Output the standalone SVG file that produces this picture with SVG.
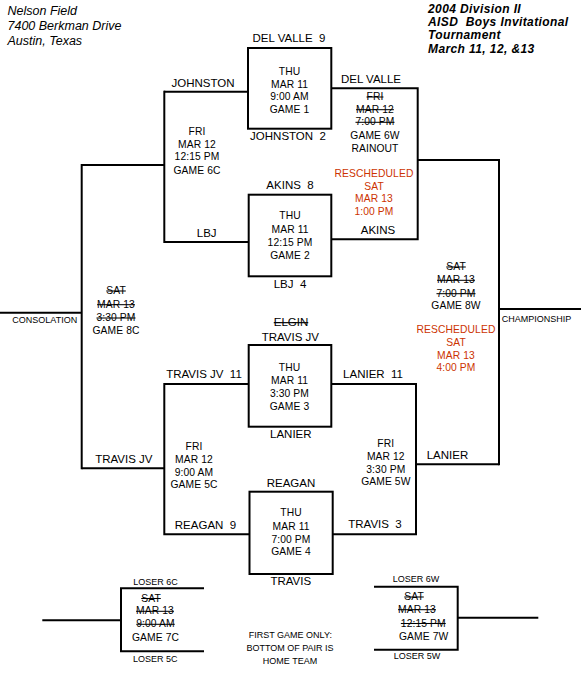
<svg xmlns="http://www.w3.org/2000/svg" width="581" height="691" viewBox="0 0 581 691" xml:space="preserve">
<style>
text{font-family:"Liberation Sans",Arial,sans-serif;fill:#000;white-space:pre}
.hdr{font-size:12.5px;font-style:italic}
.hdr2{font-size:12px;font-style:italic;font-weight:bold;letter-spacing:0.4px}
.lbl{font-size:11.5px;text-anchor:middle}
.g{font-size:10.3px;text-anchor:middle;letter-spacing:0.1px}
.s{font-size:9px}
.m{text-anchor:middle}
.x{text-decoration:line-through}
.r{fill:#cc3300}
.ln{fill:none;stroke:#000;stroke-width:2}
</style>
<rect width="581" height="691" fill="#fff"/>
<g id="header-left">
<text class="hdr" x="7.5" y="15">Nelson Field</text>
<text class="hdr" x="7.5" y="30">7400 Berkman Drive</text>
<text class="hdr" x="7.5" y="45">Austin, Texas</text>
</g>
<g id="header-right">
<text class="hdr2" x="428" y="12.5">2004 Division II</text>
<text class="hdr2" x="428" y="25.5">AISD  Boys Invitational</text>
<text class="hdr2" x="428" y="39">Tournament</text>
<text class="hdr2" x="428" y="52.5">March 11, 12, &amp;13</text>
</g>
<g id="connectors" class="ln">
<polyline points="164,91.7 248,91.7"/>
<polyline points="164.3,90.7 164.3,243"/>
<polyline points="164,242 248.5,242"/>
<polyline points="331,88.3 417.7,88.3 417.7,239.3 331,239.3"/>
<polyline points="82,165 164.3,165"/>
<polyline points="417.7,160 499,160"/>
<polyline points="81.7,164 81.7,469.3"/>
<polyline points="0,312.7 81.7,312.7"/>
<polyline points="499,159 499,465.3"/>
<polyline points="499,309 581,309"/>
<polyline points="248.5,384 164.3,384 164.3,534.3 249,534.3"/>
<polyline points="81.7,468.3 164.3,468.3"/>
<polyline points="331,384 416,384 416,534.3 332.7,534.3"/>
<polyline points="416,464.3 499,464.3"/>
<polyline points="204,588.3 121,588.3 121,651.3 204,651.3"/>
<polyline points="42.3,620.3 121,620.3"/>
<polyline points="374,586.7 457.7,586.7 457.7,649.7 374,649.7"/>
<polyline points="457.7,617.7 538.3,617.7"/>
</g>
<g id="game1">
<rect class="ln" x="248" y="48" width="83.3" height="80.7"/>
<text class="lbl" x="289" y="42">DEL VALLE  9</text>
<text class="lbl" x="288" y="140">JOHNSTON  2</text>
<text class="g" x="289.5" y="74.5">THU</text>
<text class="g" x="289.5" y="87.5">MAR 11</text>
<text class="g" x="289.5" y="100">9:00 AM</text>
<text class="g" x="289.5" y="112.5">GAME 1</text>
</g>
<g id="game2">
<rect class="ln" x="248.7" y="194.7" width="82.6" height="81.6"/>
<text class="lbl" x="290" y="189">AKINS  8</text>
<text class="lbl" x="290" y="288.3">LBJ  4</text>
<text class="g" x="290" y="219.3">THU</text>
<text class="g" x="290" y="232.5">MAR 11</text>
<text class="g" x="290" y="245.5">12:15 PM</text>
<text class="g" x="290" y="258.7">GAME 2</text>
</g>
<g id="game3">
<rect class="ln" x="248.7" y="345" width="82.6" height="81.7"/>
<text class="lbl x" x="291" y="326">ELGIN</text>
<text class="lbl" x="290.3" y="341">TRAVIS JV</text>
<text class="lbl" x="290.8" y="438.3">LANIER</text>
<text class="g" x="289.5" y="370.7">THU</text>
<text class="g" x="289.5" y="384">MAR 11</text>
<text class="g" x="289.5" y="396.7">3:30 PM</text>
<text class="g" x="289.5" y="410">GAME 3</text>
</g>
<g id="game4">
<rect class="ln" x="249.5" y="491.7" width="83.2" height="82.3"/>
<text class="lbl" x="291" y="486.7">REAGAN</text>
<text class="lbl" x="290.8" y="585">TRAVIS</text>
<text class="g" x="291" y="516">THU</text>
<text class="g" x="291" y="529.5">MAR 11</text>
<text class="g" x="291" y="542.5">7:00 PM</text>
<text class="g" x="291" y="555">GAME 4</text>
</g>
<g id="game6C">
<text class="lbl" x="203" y="86.7">JOHNSTON</text>
<text class="lbl" x="206.7" y="236.7">LBJ</text>
<text class="g" x="197" y="135">FRI</text>
<text class="g" x="197" y="147.5">MAR 12</text>
<text class="g" x="197" y="160.3">12:15 PM</text>
<text class="g" x="197" y="173.5">GAME 6C</text>
</g>
<g id="game6W">
<text class="lbl" x="371" y="83.3">DEL VALLE</text>
<text class="lbl" x="378" y="234">AKINS</text>
<text class="g x" x="375" y="100">FRI</text>
<text class="g x" x="375" y="112.7">MAR 12</text>
<text class="g x" x="375" y="125.3">7:00 PM</text>
<text class="g" x="375" y="138.5">GAME 6W</text>
<text class="g" x="375" y="151.5">RAINOUT</text>
<text class="g r" x="374" y="177.3">RESCHEDULED</text>
<text class="g r" x="374" y="189.5">SAT</text>
<text class="g r" x="374" y="202">MAR 13</text>
<text class="g r" x="374" y="215">1:00 PM</text>
</g>
<g id="game8C">
<text class="s" x="12.3" y="322.7">CONSOLATION</text>
<text class="g x" x="116" y="294">SAT</text>
<text class="g x" x="116" y="307.7">MAR 13</text>
<text class="g x" x="116" y="321">3:30 PM</text>
<text class="g" x="116" y="334">GAME 8C</text>
</g>
<g id="game8W">
<text class="s" x="501.7" y="322.3">CHAMPIONSHIP</text>
<text class="g x" x="456" y="270">SAT</text>
<text class="g x" x="456" y="283.3">MAR 13</text>
<text class="g x" x="456" y="296.7">7:00 PM</text>
<text class="g" x="456" y="309.3">GAME 8W</text>
<text class="g r" x="456" y="333.3">RESCHEDULED</text>
<text class="g r" x="456" y="345.7">SAT</text>
<text class="g r" x="456" y="358.7">MAR 13</text>
<text class="g r" x="456" y="371.3">4:00 PM</text>
</g>
<g id="game5C">
<text class="lbl" x="204" y="377.7">TRAVIS JV  11</text>
<text class="lbl" x="123.8" y="463.3">TRAVIS JV</text>
<text class="lbl" x="205.5" y="529">REAGAN  9</text>
<text class="g" x="194" y="450">FRI</text>
<text class="g" x="194" y="462.7">MAR 12</text>
<text class="g" x="194" y="475.7">9:00 AM</text>
<text class="g" x="194" y="488.3">GAME 5C</text>
</g>
<g id="game5W">
<text class="lbl" x="373" y="377.7">LANIER  11</text>
<text class="lbl" x="447.5" y="459.3">LANIER</text>
<text class="lbl" x="375" y="528.3">TRAVIS  3</text>
<text class="g" x="385.8" y="446.7">FRI</text>
<text class="g" x="385.8" y="460">MAR 12</text>
<text class="g" x="385.8" y="472.7">3:30 PM</text>
<text class="g" x="385.8" y="485.3">GAME 5W</text>
</g>
<g id="game7C">
<text class="s m" x="155.5" y="585">LOSER 6C</text>
<text class="s m" x="155.3" y="661.7">LOSER 5C</text>
<text class="g x" x="151" y="601.5">SAT</text>
<text class="g x" x="155" y="614.3">MAR 13</text>
<text class="g x" x="155.5" y="627.3">9:00 AM</text>
<text class="g" x="155.5" y="641">GAME 7C</text>
</g>
<g id="game7W">
<text class="s m" x="416" y="581.5">LOSER 6W</text>
<text class="s m" x="417" y="659.3">LOSER 5W</text>
<text class="g x" x="414" y="600">SAT</text>
<text class="g x" x="417" y="612.7">MAR 13</text>
<text class="g x" x="423.3" y="626.5">12:15 PM</text>
<text class="g" x="423.7" y="640">GAME 7W</text>
</g>
<g id="note">
<text class="s m" x="290.3" y="638">FIRST GAME ONLY:</text>
<text class="s m" x="290" y="651">BOTTOM OF PAIR IS</text>
<text class="s m" x="290" y="664">HOME TEAM</text>
</g>
</svg>
